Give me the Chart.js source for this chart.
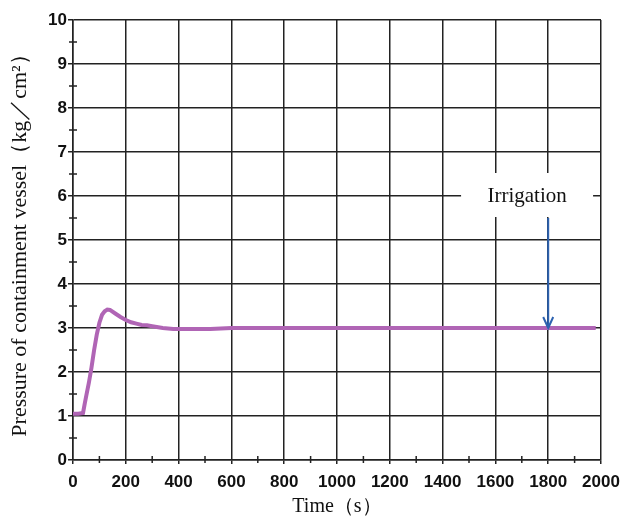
<!DOCTYPE html>
<html>
<head>
<meta charset="utf-8">
<script src="https://cdn.jsdelivr.net/npm/chart.js@4"></script>
<style>
  html, body { margin: 0; padding: 0; background: #fff; }
  #wrap { width: 624px; height: 517px; }
</style>
</head>
<body>
<div id="wrap"><canvas id="pressureChart" width="624" height="517"></canvas></div>
<script>
// time (s) and containment vessel pressure (kg/cm2)
const timeSec = [0, 20, 38, 45, 50, 60, 70, 80, 90, 100, 110, 120, 130, 140, 160, 180, 200, 220, 240, 260, 280, 300, 340, 380, 450, 520, 560, 600, 800, 1000, 1200, 1400, 1600, 1800, 1980];
const pressure = [1.05, 1.05, 1.07, 1.3, 1.45, 1.75, 2.1, 2.5, 2.85, 3.12, 3.3, 3.38, 3.42, 3.41, 3.33, 3.25, 3.18, 3.13, 3.1, 3.07, 3.06, 3.04, 3.0, 2.98, 2.98, 2.98, 2.99, 3.0, 3.0, 3.0, 3.0, 3.0, 3.0, 3.0, 3.0];
const xTicks = [0, 200, 400, 600, 800, 1000, 1200, 1400, 1600, 1800, 2000];
const yTicks = [0, 1, 2, 3, 4, 5, 6, 7, 8, 9, 10];
const irrigationTime = 1800;
const irrigationLabel = 'Irrigation';

const lineColor = '#b065b5';
const tickFont = { family: '"Liberation Sans Narrow", "Liberation Sans", Arial, sans-serif', size: 17, weight: 'bold' };
const titleFont = { family: '"Liberation Serif", "Times New Roman", serif', size: 20, lineHeight: 1 };

// minor ticks on both axes + irrigation note
const extras = {
  id: 'extras',
  afterDatasetsDraw(chart) {
    const { ctx, chartArea, scales: { x, y } } = chart;
    ctx.save();
    ctx.strokeStyle = '#222';
    ctx.lineWidth = 1.5;
    for (let v = 100; v < 2000; v += 200) {
      const px = x.getPixelForValue(v);
      ctx.beginPath(); ctx.moveTo(px, chartArea.bottom - 4); ctx.lineTo(px, chartArea.bottom + 3); ctx.stroke();
    }
    for (let v = 0.5; v < 10; v += 1) {
      const py = y.getPixelForValue(v);
      ctx.beginPath(); ctx.moveTo(chartArea.left - 4, py); ctx.lineTo(chartArea.left + 4, py); ctx.stroke();
    }

    // irrigation label on white box
    const tx = x.getPixelForValue(1720);
    const ty = y.getPixelForValue(6);
    ctx.fillStyle = '#fff';
    ctx.fillRect(tx - 66, ty - 23, 132, 44);
    ctx.fillStyle = '#111';
    ctx.font = '21px "Liberation Serif", "Times New Roman", serif';
    ctx.textAlign = 'center';
    ctx.textBaseline = 'middle';
    ctx.fillText(irrigationLabel, tx, ty);

    // arrow
    const ax = x.getPixelForValue(irrigationTime);
    const ay0 = y.getPixelForValue(5.5);
    const ay1 = y.getPixelForValue(3.0);
    ctx.strokeStyle = '#2d62b0';
    ctx.lineWidth = 2;
    ctx.beginPath(); ctx.moveTo(ax, ay0); ctx.lineTo(ax, ay1); ctx.stroke();
    ctx.beginPath(); ctx.moveTo(ax - 5, ay1 - 11); ctx.lineTo(ax, ay1); ctx.lineTo(ax + 5, ay1 - 11); ctx.stroke();
    ctx.restore();
  }
};

new Chart(document.getElementById('pressureChart'), {
  type: 'line',
  data: {
    datasets: [{
      data: timeSec.map((t, i) => ({ x: t, y: pressure[i] })),
      borderColor: lineColor,
      backgroundColor: lineColor,
      borderWidth: 4,
      pointRadius: 0,
      tension: 0,
      fill: false
    }]
  },
  options: {
    responsive: false,
    animation: false,
    layout: { padding: { top: 20, right: 23, left: 0, bottom: 0 } },
    plugins: { legend: { display: false }, tooltip: { enabled: false } },
    scales: {
      x: {
        type: 'linear',
        min: 0, max: 2000,
        afterBuildTicks: s => { s.ticks = xTicks.map(v => ({ value: v })); },
        afterFit: s => { s.height = 57; s.paddingLeft = 0; s.paddingRight = 0; },
        ticks: { color: '#111', font: tickFont, maxRotation: 0, padding: 8, callback: v => String(v) },
        grid: { color: '#222', lineWidth: 1.5, tickLength: 4 },
        border: { color: '#222', width: 1.5 },
        title: { display: true, text: 'Time（s）', color: '#111', font: titleFont, padding: { top: 2, bottom: 0 } }
      },
      y: {
        min: 0, max: 10,
        afterBuildTicks: s => { s.ticks = yTicks.map(v => ({ value: v })); },
        afterFit: s => { s.width = 73; s.paddingTop = 0; s.paddingBottom = 0; },
        ticks: { color: '#111', font: tickFont, padding: 1, callback: v => String(v) },
        grid: { color: '#222', lineWidth: 1.5, tickLength: 5 },
        border: { color: '#222', width: 1.5 },
        title: { display: true, text: 'Pressure of containment vessel（kg／cm²）', color: '#111', font: { ...titleFont, size: 22 }, padding: { top: 9, bottom: 0 } }
      }
    }
  },
  plugins: [extras]
});
</script>
</body>
</html>
